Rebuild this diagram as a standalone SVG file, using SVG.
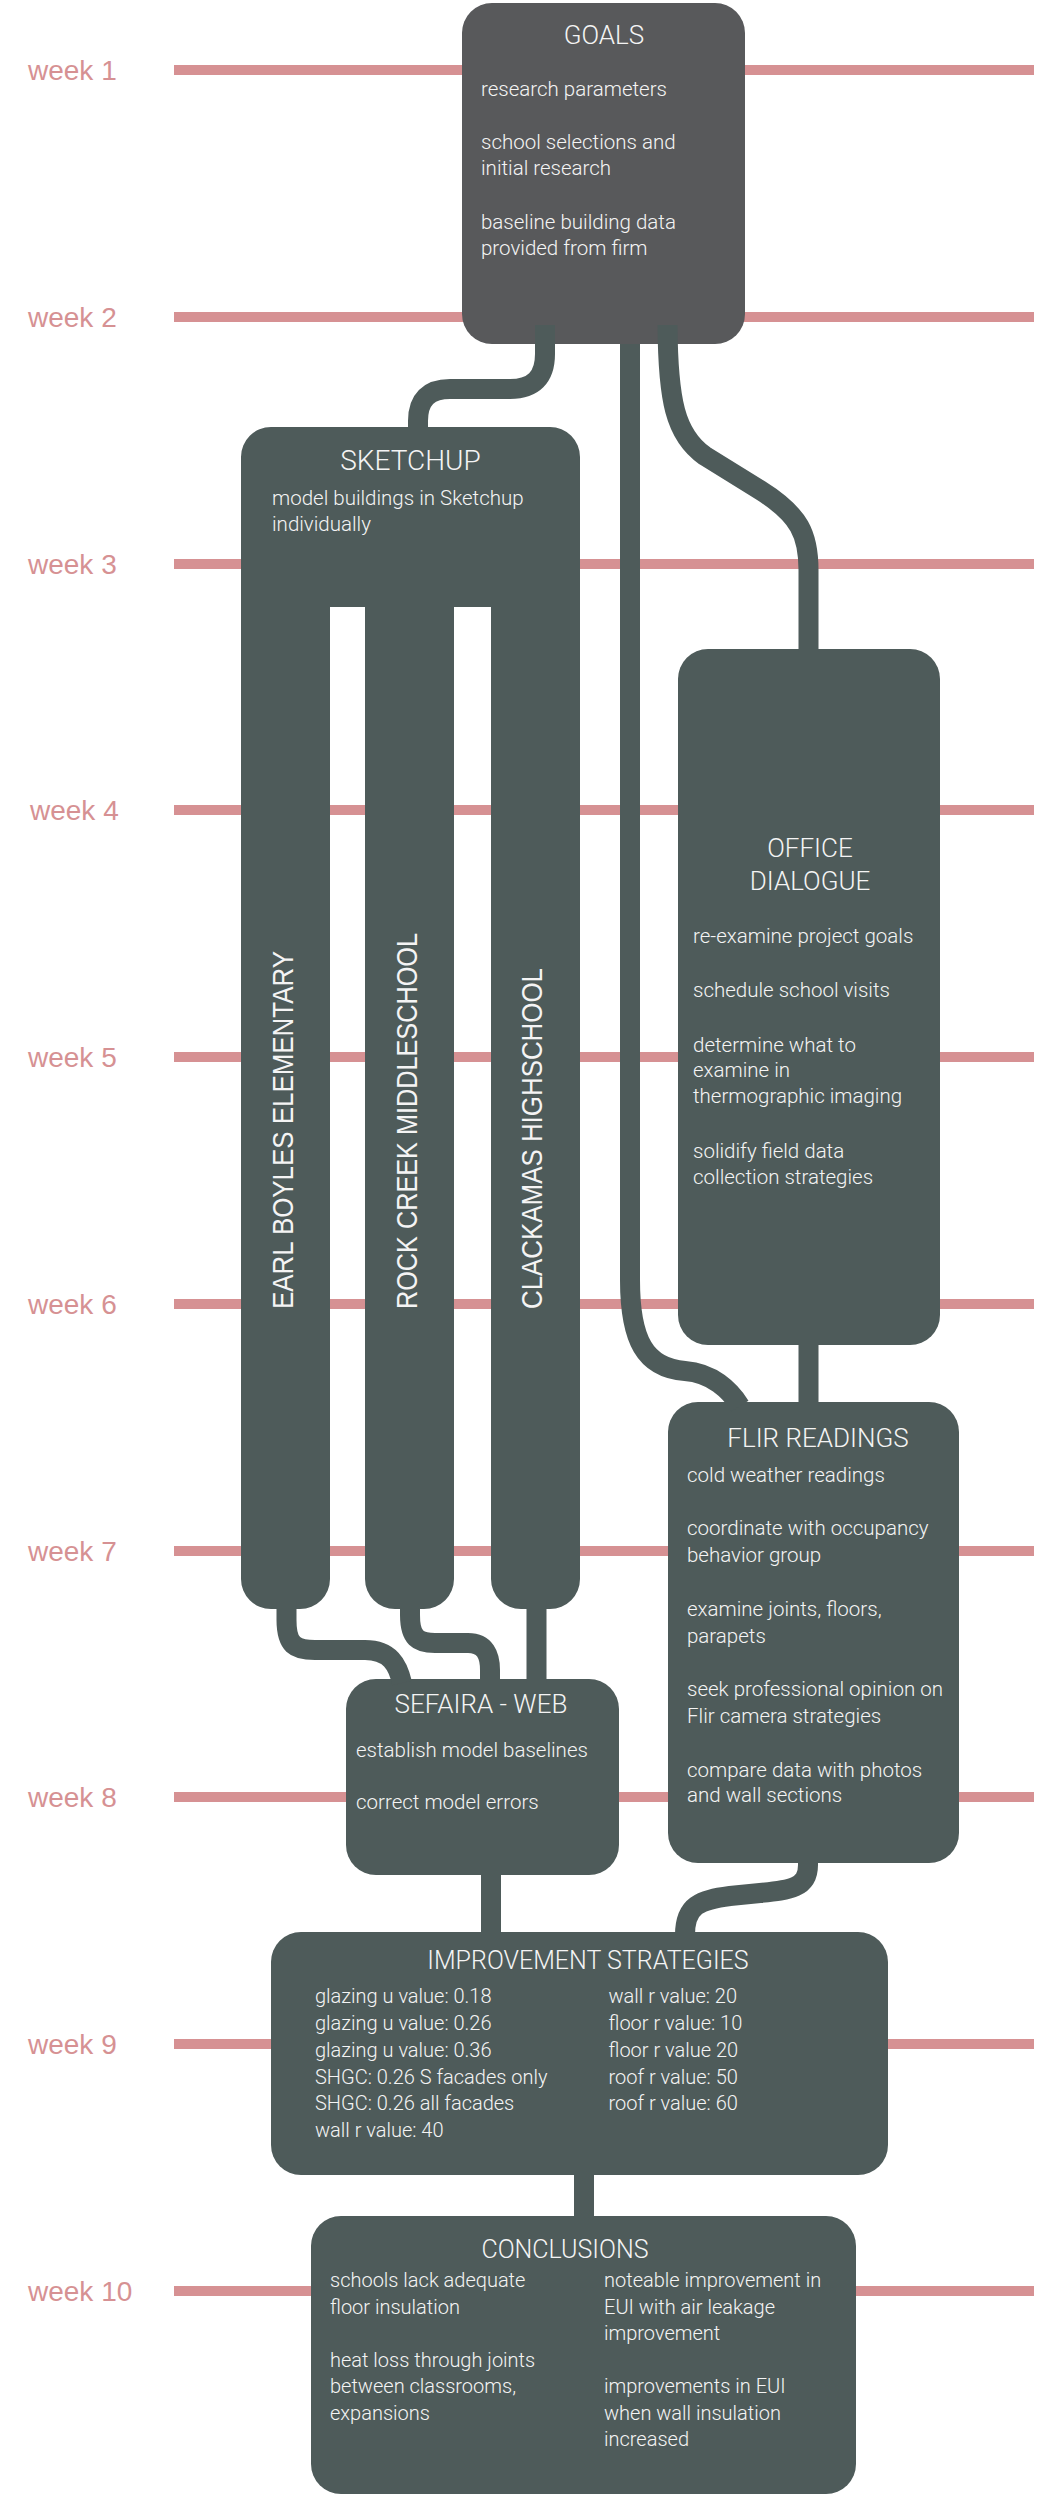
<svg xmlns="http://www.w3.org/2000/svg" width="1045" height="2495" viewBox="0 0 1045 2495">
<style>
.wl{stroke:#d69193;stroke-width:10;fill:none}
.wk{font-family:"Liberation Sans",Arial,sans-serif;font-size:28px;fill:#d69193}
.box{fill:#4e5b5a}
.gbox{fill:#58595b}
.t{font-family:Roboto,"Liberation Sans",sans-serif;font-size:26px;fill:#f4f4f4;text-anchor:middle;font-weight:300}
.b{font-family:Roboto,"Liberation Sans",sans-serif;font-size:20.5px;fill:#f4f4f4;font-weight:300}
.b2{font-family:Roboto,"Liberation Sans",sans-serif;font-size:20px;fill:#f4f4f4;font-weight:300}
.v{font-family:"Liberation Sans",Arial,sans-serif;font-size:30px;fill:#f4f4f4}
.c{fill:none;stroke:#4e5b5a;stroke-width:20}
</style>
<rect width="1045" height="2495" fill="#ffffff"/>
<g id="timeline">
<line class="wl" x1="174" y1="70" x2="1034" y2="70"/>
<line class="wl" x1="174" y1="317" x2="1034" y2="317"/>
<line class="wl" x1="174" y1="564" x2="1034" y2="564"/>
<line class="wl" x1="174" y1="810" x2="1034" y2="810"/>
<line class="wl" x1="174" y1="1057" x2="1034" y2="1057"/>
<line class="wl" x1="174" y1="1304" x2="1034" y2="1304"/>
<line class="wl" x1="174" y1="1551" x2="1034" y2="1551"/>
<line class="wl" x1="174" y1="1797" x2="1034" y2="1797"/>
<line class="wl" x1="174" y1="2044" x2="1034" y2="2044"/>
<line class="wl" x1="174" y1="2291" x2="1034" y2="2291"/>
<text class="wk" x="28" y="79.5">week 1</text>
<text class="wk" x="28" y="326.5">week 2</text>
<text class="wk" x="28" y="573.5">week 3</text>
<text class="wk" x="30" y="819.5">week 4</text>
<text class="wk" x="28" y="1066.5">week 5</text>
<text class="wk" x="28" y="1313.5">week 6</text>
<text class="wk" x="28" y="1560.5">week 7</text>
<text class="wk" x="28" y="1806.5">week 8</text>
<text class="wk" x="28" y="2053.5">week 9</text>
<text class="wk" x="28" y="2300.5">week 10</text>
</g>
<g id="goals">
<rect class="gbox" x="462" y="3" width="283" height="341" rx="30"/>
<text class="t" x="604" y="44">GOALS</text>
<text class="b" x="481" y="95.5">research parameters</text>
<text class="b" x="481" y="149">school selections and</text>
<text class="b" x="481" y="174.5">initial research</text>
<text class="b" x="481" y="228.5">baseline building data</text>
<text class="b" x="481" y="255">provided from firm</text>
</g>
<g id="sketchup">
<path class="box" d="M241,457 A30,30 0 0 1 271,427 H550 A30,30 0 0 1 580,457 V1579 A30,30 0 0 1 550,1609 H521 A30,30 0 0 1 491,1579 V607 H454 V1579 A30,30 0 0 1 424,1609 H395 A30,30 0 0 1 365,1579 V607 H330 V1579 A30,30 0 0 1 300,1609 H271 A30,30 0 0 1 241,1579 Z"/>
<text class="t" x="410.5" y="470" style="font-size:28px">SKETCHUP</text>
<text class="b" x="272" y="505">model buildings in Sketchup</text>
<text class="b" x="272" y="531">individually</text>
<text class="v" transform="translate(292.5,1309) rotate(-90)" textLength="358" lengthAdjust="spacingAndGlyphs">EARL BOYLES ELEMENTARY</text>
<text class="v" transform="translate(416.5,1309) rotate(-90)" textLength="376" lengthAdjust="spacingAndGlyphs">ROCK CREEK MIDDLESCHOOL</text>
<text class="v" transform="translate(541.5,1309) rotate(-90)" textLength="341" lengthAdjust="spacingAndGlyphs">CLACKAMAS HIGHSCHOOL</text>
</g>
<g id="office-dialogue">
<rect class="box" x="678" y="649" width="262" height="696" rx="30"/>
<text class="t" x="810" y="857">OFFICE</text>
<text class="t" x="810" y="890">DIALOGUE</text>
<text class="b" x="693" y="943">re-examine project goals</text>
<text class="b" x="693" y="997">schedule school visits</text>
<text class="b" x="693" y="1052">determine what to</text>
<text class="b" x="693" y="1077">examine in</text>
<text class="b" x="693" y="1103">thermographic imaging</text>
<text class="b" x="693" y="1158">solidify field data</text>
<text class="b" x="693" y="1184">collection strategies</text>
</g>
<g id="flir-readings">
<rect class="box" x="668" y="1402" width="291" height="461" rx="30"/>
<text class="t" x="818" y="1447">FLIR READINGS</text>
<text class="b" x="687" y="1482">cold weather readings</text>
<text class="b" x="687" y="1535">coordinate with occupancy</text>
<text class="b" x="687" y="1562">behavior group</text>
<text class="b" x="687" y="1616">examine joints, floors,</text>
<text class="b" x="687" y="1642.5">parapets</text>
<text class="b" x="687" y="1696">seek professional opinion on</text>
<text class="b" x="687" y="1723">Flir camera strategies</text>
<text class="b" x="687" y="1776.5">compare data with photos</text>
<text class="b" x="687" y="1802">and wall sections</text>
</g>
<g id="sefaira-web">
<rect class="box" x="346" y="1679" width="273" height="196" rx="30"/>
<text class="t" x="481" y="1713">SEFAIRA - WEB</text>
<text class="b" x="356" y="1756.5">establish model baselines</text>
<text class="b" x="356" y="1809">correct model errors</text>
</g>
<g id="improvement-strategies">
<rect class="box" x="271" y="1932" width="617" height="243" rx="30"/>
<text class="t" x="588" y="1969" style="font-size:25px">IMPROVEMENT STRATEGIES</text>
<text class="b2" x="315" y="2003">glazing u value: 0.18</text>
<text class="b2" x="315" y="2030">glazing u value: 0.26</text>
<text class="b2" x="315" y="2056.5">glazing u value: 0.36</text>
<text class="b2" x="315" y="2083.5">SHGC: 0.26 S facades only</text>
<text class="b2" x="315" y="2110">SHGC: 0.26 all facades</text>
<text class="b2" x="315" y="2137">wall r value: 40</text>
<text class="b2" x="608.5" y="2003">wall r value: 20</text>
<text class="b2" x="608.5" y="2030">floor r value: 10</text>
<text class="b2" x="608.5" y="2056.5">floor r value 20</text>
<text class="b2" x="608.5" y="2083.5">roof r value: 50</text>
<text class="b2" x="608.5" y="2110">roof r value: 60</text>
</g>
<g id="conclusions">
<rect class="box" x="311" y="2216" width="545" height="278" rx="30"/>
<text class="t" x="565" y="2257.5" style="font-size:25px">CONCLUSIONS</text>
<text class="b2" x="330" y="2287">schools lack adequate</text>
<text class="b2" x="330" y="2314">floor insulation</text>
<text class="b2" x="330" y="2367">heat loss through joints</text>
<text class="b2" x="330" y="2393">between classrooms,</text>
<text class="b2" x="330" y="2420">expansions</text>
<text class="b2" x="604" y="2287">noteable improvement in</text>
<text class="b2" x="604" y="2314">EUI with air leakage</text>
<text class="b2" x="604" y="2340">improvement</text>
<text class="b2" x="604" y="2393">improvements in EUI</text>
<text class="b2" x="604" y="2420">when wall insulation</text>
<text class="b2" x="604" y="2446">increased</text>
</g>
<g id="connectors">
<path class="c" d="M545,325 L545,354 Q545,389 510,389 L450,389 Q418,389 418,421 L418,432"/>
<path class="c" d="M630,344 L630,1280 C630,1340 645,1368 685,1371 C712,1373 730,1390 740,1406"/>
<path class="c" d="M667.5,325 C668,400 675,435 705,456 L760,490 C800,515 808.5,535 808.5,570 L808.5,652"/>
<path class="c" d="M808.5,1342 L808.5,1405"/>
<path class="c" d="M286.5,1600 L286.5,1620 C286.5,1645 295,1650 315,1650 L365,1650 C390,1650 398,1665 402,1683"/>
<path class="c" d="M410,1600 L410,1615 C410,1638 418,1643 435,1643 L468,1643 C485,1643 490,1655 490,1670 L490,1683"/>
<path class="c" d="M536.5,1600 L536.5,1683"/>
<path class="c" d="M808,1855 L808,1865 C808,1888 790,1890 760,1893 L730,1896 C700,1900 685,1905 685,1935"/>
<path class="c" d="M491,1870 L491,1935"/>
<path class="c" d="M584,2170 L584,2219"/>
</g>
</svg>
